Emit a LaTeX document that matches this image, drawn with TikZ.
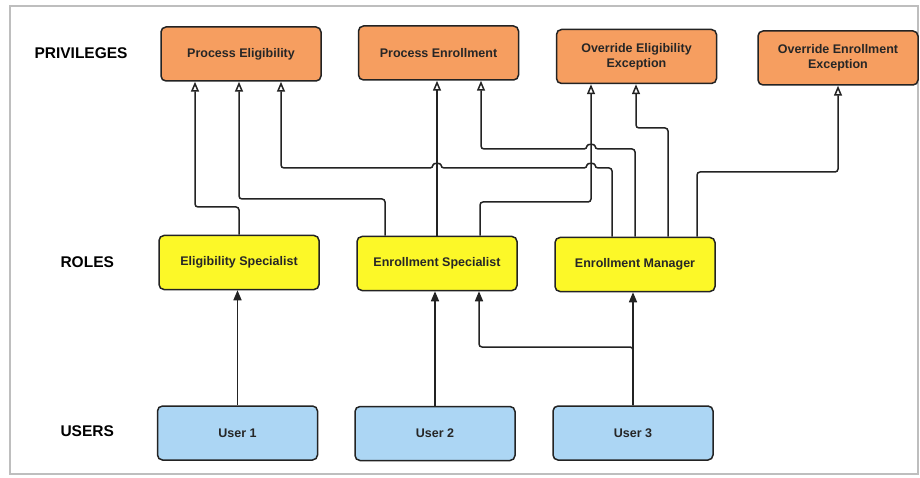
\documentclass[tikz,border=0pt]{standalone}
\usepackage{fontspec}
\setmainfont{Liberation Sans}
\usetikzlibrary{arrows.meta}

\definecolor{privfill}{RGB}{246,158,96}
\definecolor{rolefill}{RGB}{252,248,40}
\definecolor{userfill}{RGB}{172,214,244}
\definecolor{edgeline}{RGB}{35,35,35}
\definecolor{framegray}{RGB}{190,190,190}

\tikzset{
  box/.style={draw=edgeline, line width=1.5pt, rounded corners=5pt,
    minimum width=160pt, minimum height=54pt, inner sep=2pt,
    align=center, text=black!85, font=\fontsize{12.5}{15}\selectfont\bfseries},
  privbox/.style={box, fill=privfill},
  rolebox/.style={box, fill=rolefill},
  userbox/.style={box, fill=userfill},
  tier/.style={anchor=west, text=black, font=\fontsize{15.5}{18}\selectfont\bfseries},
  link/.style={draw=edgeline, line width=1.5pt, rounded corners=3pt},
  toRole/.style={link, -{Triangle[length=10pt, width=8pt]}},
  toPriv/.style={link, -{Triangle[open, length=10pt, width=8pt, fill=white]}},
}

\begin{document}
\begin{tikzpicture}[x=1pt, y=-1pt]
  % canvas and outer frame
  \fill[white] (0,0) rectangle (920,478);
  \useasboundingbox (0,0) rectangle (920,478);
  \draw[framegray, line width=1.6pt] (10,6) rectangle (918,474);

  % tier captions
  \node[tier] (tPriv)  at (31,53)  {PRIVILEGES};
  \node[tier] (tRoles) at (57,262) {ROLES};
  \node[tier] (tUsers) at (57,431) {USERS};

  % privileges
  \node[privbox] (PE)   at (241,54)   {Process Eligibility};
  \node[privbox] (PEn)  at (438.5,53) {Process Enrollment};
  \node[privbox] (OEE)  at (636.5,56.5) {Override Eligibility\\Exception};
  \node[privbox] (OEnE) at (838,58)   {Override Enrollment\\Exception};

  % roles
  \node[rolebox] (ES)  at (239,262.5) {Eligibility Specialist};
  \node[rolebox] (EnS) at (437,263.5) {Enrollment Specialist};
  \node[rolebox] (EM)  at (635,264.5) {Enrollment Manager};

  % users
  \node[userbox] (U1) at (237.5,433) {User 1};
  \node[userbox] (U2) at (435,433.5) {User 2};
  \node[userbox] (U3) at (633,433)   {User 3};

  % users -> roles
  \draw[toRole] (U1.north) -- (U1.north |- ES.south);
  \draw[toRole] (U2.north) -- (U2.north |- EnS.south);
  \draw[toRole] (U3.north) -- (U3.north |- EM.south);
  \draw[toRole] (U3.north) |- (479,347) -- (479,0 |- EnS.south);

  % roles -> privileges
  \draw[toPriv] (ES.north) |- (195,207) -- (195,0 |- PE.south);
  \draw[toPriv] (385,0 |- EnS.north) |- (239,199) -- (239,0 |- PE.south);
  \draw[toPriv] (EnS.north) -- (EnS.north |- PEn.south);
  \draw[toPriv] (480,0 |- EnS.north) |- (591,202) -- (591,0 |- OEE.south);
  \draw[toPriv] (612,0 |- EM.north) -- (612,168) -- (595,168)
      .. controls (595,162.7) and (587,162.7) .. (587,168)
      -- (441,168)
      .. controls (441,162.7) and (433,162.7) .. (433,168)
      -- (281,168) -- (281,0 |- PE.south);
  \draw[toPriv] (635,0 |- EM.north) -- (635,149) -- (595,149)
      .. controls (595,143.7) and (587,143.7) .. (587,149)
      -- (481,149) -- (481,0 |- PEn.south);
  \draw[toPriv] (668,0 |- EM.north) -- (668,128) -- (636,128) -- (636,0 |- OEE.south);
  \draw[toPriv] (697,0 |- EM.north) -- (697,172) -- (838,172) -- (838,0 |- OEnE.south);
\end{tikzpicture}
\end{document}
